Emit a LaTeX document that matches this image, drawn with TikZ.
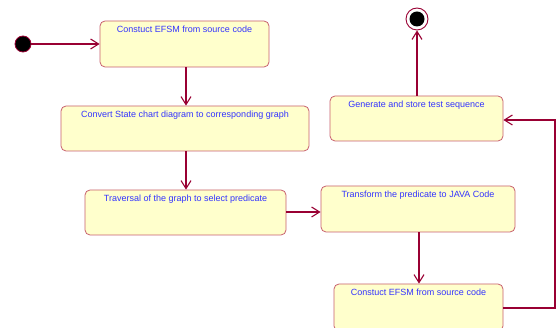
\documentclass[tikz,border=0pt]{standalone}
\usepackage{fontspec}
\setmainfont{Liberation Sans}
\usetikzlibrary{arrows.meta}
\definecolor{boxfill}{HTML}{FFFFCC}
\definecolor{boxdraw}{HTML}{C8606E}
\definecolor{linec}{HTML}{990033}
\definecolor{txt}{HTML}{3333FF}
\tikzset{
  x=1pt, y=-1pt,
  actbox/.style={draw=boxdraw, fill=boxfill, rounded corners=5pt, line width=0.8pt, inner sep=0pt},
  lbl/.style={text=txt, font=\fontsize{9}{10}\selectfont, anchor=north, inner sep=0pt},
  flow/.style={draw=linec, line width=1.3pt, -{Straight Barb[length=8pt,width=10pt,line width=1.1pt]}},
}
\newcommand{\actbox}[6]{%
  \node[actbox, minimum width=#4-#2, minimum height=#5-#3] (#1) at ({(#2+#4)/2},{(#3+#5)/2}) {};
  \node[lbl] (#1t) at ({(#2+#4)/2},{#3+4.5}) {#6};
}
\begin{document}
\begin{tikzpicture}
\useasboundingbox[fill=white] (0,0) rectangle (557,328);
\actbox{b1}{100}{21}{269}{67}{Constuct EFSM from source code}
\actbox{b2}{61}{106}{309}{151}{Convert State chart diagram to corresponding graph}
\actbox{b3}{85}{190}{286}{235}{Traversal of the graph to select predicate}
\actbox{b4}{321}{186}{515}{232}{Transform the predicate to JAVA Code}
\actbox{b5}{334}{284}{503}{331}{Constuct EFSM from source code}
\actbox{b6}{330}{96}{503}{141}{Generate and store test sequence}
\node[circle, fill=black, draw=linec, line width=0.8pt, minimum size=16pt, inner sep=0pt] (start) at (23,44) {};
\node[circle, draw=linec, fill=white, line width=0.9pt, minimum size=22pt, inner sep=0pt] (end) at (417,19) {};
\node[circle, fill=black, minimum size=15pt, inner sep=0pt] (endin) at (417,19) {};
\coordinate (c1) at (555,308);
\coordinate (c2) at (555,120);
\draw[flow] (start) -- (b1.west |- start);
\draw[flow] (b1.south -| 186,0) -- (b2.north -| 186,0);
\draw[flow] (b2.south -| 186,0) -- (b3.north -| 186,0);
\draw[flow] (b3.east |- 0,212) -- (b4.west |- 0,212);
\draw[flow] (b4.south -| 419,0) -- (b5.north -| 419,0);
\draw[flow] (b5.east |- c1) -- (c1) -- (c2) -- (b6.east |- c2);
\draw[flow] (b6.north -| end) -- (end.south);
\end{tikzpicture}
\end{document}
